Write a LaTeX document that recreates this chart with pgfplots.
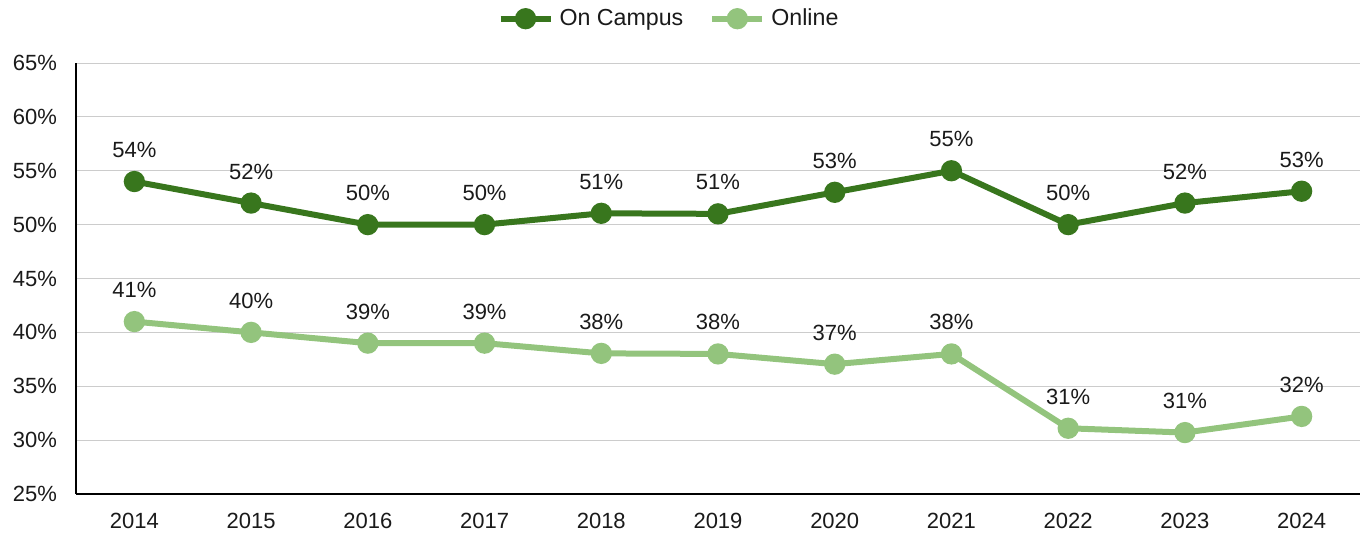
\documentclass[border=0pt]{standalone}
\usepackage{pgfplots}
\pgfplotsset{compat=1.18}
\usepackage{fontspec}
\setmainfont{Liberation Sans}
\definecolor{dgreen}{HTML}{38761D}
\definecolor{lgreen}{HTML}{93C47D}
\definecolor{txt}{HTML}{1A1A1A}
\newcommand\f{\fontsize{11}{13.2}\selectfont}
\newcommand\fl{\fontsize{11.6}{13.9}\selectfont}
\begin{document}
\begin{tikzpicture}
\path[use as bounding box] (-38pt,-21pt) rectangle (645.5pt,247pt);
\begin{axis}[
  scale only axis, width=642pt, height=215.5pt,
  at={(0,0)}, anchor=south west,
  xmin=-0.5, xmax=10.5, ymin=25, ymax=65,
  xtick={0,...,10},
  xticklabels={2014,2015,2016,2017,2018,2019,2020,2021,2022,2023,2024},
  ytick={25,30,...,65},
  yticklabel={\pgfmathprintnumber{\tick}\%},
  /pgf/number format/assume math mode=true,
  axis x line=bottom, axis y line=left,
  axis line style={-, black, line width=0.6pt},
  major tick length=0pt,
  ymajorgrids, grid style={color=black!20, line width=0.5pt},
  tick label style={font=\f, text=txt},
  yticklabel style={xshift=-6pt},
  xticklabel style={yshift=-6pt},
  clip=false,
  point meta=y,
  nodes near coords={\pgfmathprintnumber[fixed,precision=0]{\pgfplotspointmeta}\%},
  every node near coord/.append style={font=\f, text=txt, anchor=base, inner sep=0pt, yshift=12pt},
  legend style={draw=none, at={(0.5,1)}, anchor=south, xshift=-24pt, yshift=15pt, font=\fl, text=txt, column sep=1pt, inner sep=0pt,
    /tikz/every even column/.append style={column sep=11pt}},
  legend columns=2,
  legend cell align=left,
  legend image code/.code={\draw[#1, mark repeat=2, mark phase=2] plot coordinates {(0pt,0pt) (12.5pt,0pt) (25pt,0pt)};},
]
\addplot[dgreen, line width=3pt, mark=*, mark size=3.8pt, mark options={solid, fill=dgreen, draw=none}]
  coordinates {(0,54) (1,52) (2,50) (3,50) (4,51.05) (5,51) (6,53) (7,55) (8,50) (9,52) (10,53.1)};
\addlegendentry{On Campus}
\addplot[lgreen, line width=3pt, mark=*, mark size=3.8pt, mark options={solid, fill=lgreen, draw=none}]
  coordinates {(0,41) (1,40) (2,39) (3,39) (4,38.05) (5,38) (6,37.05) (7,38) (8,31.1) (9,30.7) (10,32.2)};
\addlegendentry{Online}
\end{axis}
\end{tikzpicture}
\end{document}
